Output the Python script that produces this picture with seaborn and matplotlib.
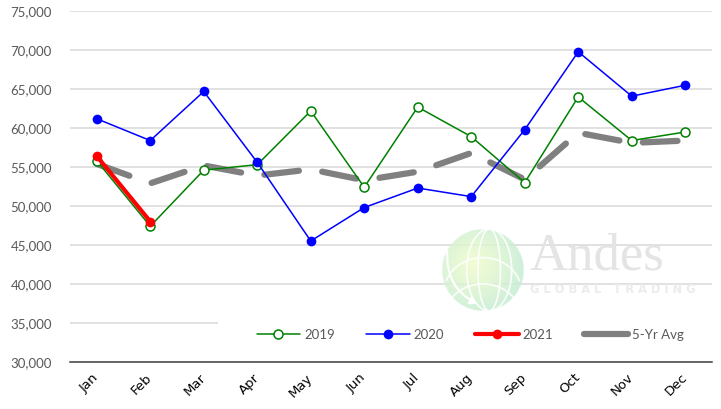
import numpy as np
import pandas as pd
import matplotlib
matplotlib.use("Agg")
import matplotlib.pyplot as plt
from matplotlib.patches import Rectangle, Arc, FancyArrowPatch
import seaborn as sns

months = ["Jan", "Feb", "Mar", "Apr", "May", "Jun",
          "Jul", "Aug", "Sep", "Oct", "Nov", "Dec"]
vals_2019 = [55800, 47400, 54600, 55300, 62200, 52400,
             62700, 58900, 53000, 64000, 58400, 59500]
vals_2020 = [61200, 58400, 64700, 55600, 45500, 49800,
             52300, 51200, 59800, 69800, 64100, 65500]
vals_2021 = [56400, 48000]
vals_avg = [55400, 52900, 55200, 53900, 54700, 53300,
            54400, 56800, 53400, 59400, 58100, 58400]
y_ticks = [30000, 35000, 40000, 45000, 50000, 55000, 60000, 65000, 70000, 75000]

sns.set_theme(style="white")
plt.rcParams["font.family"] = ["Lato", "DejaVu Sans"]
plt.rcParams["lines.scale_dashes"] = False

fig = plt.figure(figsize=(7.21, 4.09), dpi=100)
ax = fig.add_axes([0.0971, 0.1157, 0.8904, 0.8567])

df19 = pd.DataFrame({"month": months, "value": vals_2019})
df20 = pd.DataFrame({"month": months, "value": vals_2020})
df21 = pd.DataFrame({"month": months[:len(vals_2021)], "value": vals_2021})
dfav = pd.DataFrame({"month": months, "value": vals_avg})

sns.lineplot(data=df19, x="month", y="value", ax=ax, color="#008000",
             linewidth=1.1, marker="o", markersize=6.5, markerfacecolor="white",
             markeredgecolor="#008000", markeredgewidth=1.1, label="2019", zorder=4)
sns.lineplot(data=df20, x="month", y="value", ax=ax, color="#0000FF",
             linewidth=1.1, marker="o", markersize=7, markeredgewidth=0,
             label="2020", zorder=5)
sns.lineplot(data=df21, x="month", y="value", ax=ax, color="#FF0000",
             linewidth=3, marker="o", markersize=7, markeredgewidth=0,
             label="2021", zorder=6)
sns.lineplot(data=dfav, x="month", y="value", ax=ax, color="#808080",
             linewidth=4.5, label="5-Yr Avg", zorder=3)
avg_line = ax.lines[-1]
avg_line.set_dashes((25, 17))
avg_line.set_dash_capstyle("round")

ax.set_xlim(-0.5, 11.5)
ax.set_ylim(30000, 75000)
ax.set_xlabel("")
ax.set_ylabel("")

# y axis
ax.set_yticks(y_ticks)
ax.set_yticklabels([f"{v:,}" for v in y_ticks], color="#595959", fontsize=9.5)
ax.tick_params(axis="y", length=0, pad=13)
ax.yaxis.grid(True, color="#d9d9d9", linewidth=1.1)
ax.set_axisbelow(True)

# x axis: labels at month centres, ticks at quarter boundaries
ax.set_xticks([-0.5, 2.5, 5.5, 8.5, 11.5])
ax.set_xticklabels([])
ax.tick_params(axis="x", which="major", length=5, width=1.1, color="#404040", direction="out")
ax.set_xticks(range(12), minor=True)
ax.set_xticklabels(months, minor=True, rotation=45, ha="right", va="center",
                   rotation_mode="anchor", fontsize=9.5, color="black",
                   fontfamily=["DejaVu Sans"])
ax.tick_params(axis="x", which="minor", length=0, pad=10)

for side in ["left", "right", "top"]:
    ax.spines[side].set_visible(False)
ax.spines["bottom"].set_color("#404040")
ax.spines["bottom"].set_linewidth(1.1)

# white band behind the legend
ax.add_patch(Rectangle((0.2305, 0.02), 0.77, 0.11, transform=ax.transAxes,
                       facecolor="white", edgecolor="none", zorder=1))

# watermark logo
cx, cy, rx, ry = 0.643, 0.262, 0.0638, 0.117
n = 200
yy, xx = np.mgrid[-1:1:n * 1j, -1:1:n * 1j]
rr = np.sqrt(xx ** 2 + yy ** 2)
dd = np.sqrt((xx + 0.2) ** 2 + (yy - 0.15) ** 2)
t = np.clip(dd / 1.2, 0, 1)[..., None]
inner = np.array([0.95, 0.99, 0.80])
outer = np.array([0.78, 0.93, 0.83])
rgb = inner * (1 - t) + outer * t
alpha = np.where(rr <= 1, 0.85, 0.0)
img = np.dstack([rgb, alpha])
ax.imshow(img, extent=(cx - rx, cx + rx, cy - ry, cy + ry), origin="lower",
          transform=ax.transAxes, zorder=1.5, interpolation="bilinear")
ax.set_aspect("auto")
for w, h in [(0.07, 2 * ry), (0.035, 2 * ry)]:
    ax.add_patch(Arc((cx + 0.01, cy), w, h, transform=ax.transAxes,
                     color="white", lw=1.2, zorder=1.6, alpha=0.9))
for dy in (-0.04, 0.035):
    ax.add_patch(Arc((cx, cy + dy - 0.1), 2 * rx * 0.95, 0.2, theta1=30, theta2=150,
                     transform=ax.transAxes, color="white", lw=1.2, zorder=1.6, alpha=0.9))
ax.add_patch(FancyArrowPatch((cx - 0.055, cy + 0.06), (cx - 0.005, cy - 0.1),
                             connectionstyle="arc3,rad=0.35",
                             arrowstyle="-|>,head_length=4,head_width=2.5",
                             transform=ax.transAxes, color="white", lw=1.5, zorder=1.7))
ax.text(0.716, 0.262, "Andes", transform=ax.transAxes, fontsize=38,
        fontfamily=["Liberation Serif"], color="#e4e4e4", zorder=1.6, va="baseline")
ax.text(0.717, 0.197, "G L O B A L   T R A D I N G", transform=ax.transAxes,
        fontsize=8.3, fontweight="bold", fontfamily=["DejaVu Sans"], color="#ececec",
        zorder=1.6, va="baseline")

# legend
handles, labels = ax.get_legend_handles_labels()
leg = ax.legend(handles, labels, ncol=4, loc="center",
                bbox_to_anchor=(0.652, 0.1817), bbox_transform=fig.transFigure,
                frameon=False, fontsize=9.5, handlelength=3.3, handletextpad=0.3,
                columnspacing=2.35, labelcolor="#595959")
leg.set_zorder(10)
for lh in leg.get_lines():
    if lh.get_label() == "5-Yr Avg":
        lh.set_dashes((None, None))
        lh.set_linestyle("-")
        lh.set_solid_capstyle("round")

fig.savefig("out.png", dpi=100)
